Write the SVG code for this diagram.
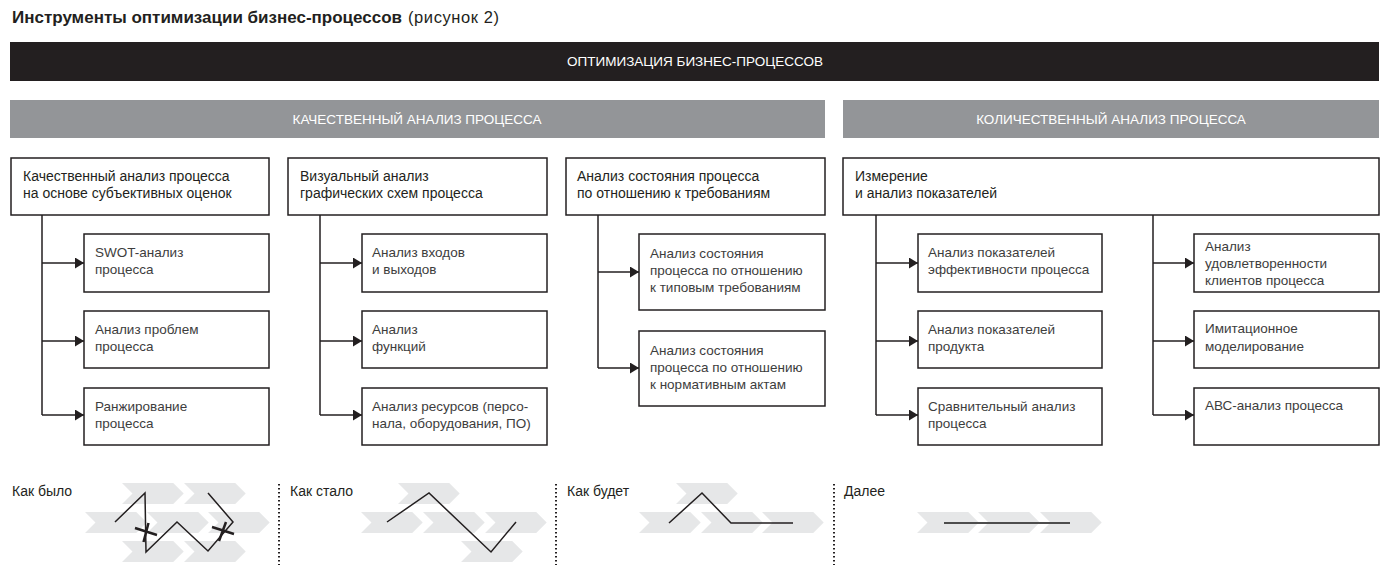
<svg xmlns="http://www.w3.org/2000/svg" width="1400" height="578" viewBox="0 0 1400 578">
<defs>
<style>
.box{fill:#fff;stroke:#231f20;stroke-width:1.5}
.t{font-family:"Liberation Sans",Arial,sans-serif;font-size:14px;fill:#231f20}
.c{font-family:"Liberation Sans",Arial,sans-serif;font-size:13.5px;fill:#3d3d3d}
.h{font-family:"Liberation Sans",Arial,sans-serif;font-size:13.5px;fill:#fff;text-anchor:middle}
.lb{font-family:"Liberation Sans",Arial,sans-serif;font-size:14px;fill:#231f20}
.conn{fill:none;stroke:#231f20;stroke-width:1.5}
.chev{fill:#e6e7e8}
.pl{fill:none;stroke:#231f20;stroke-width:1.5}
.xm{fill:none;stroke:#231f20;stroke-width:2.5}
.dot{stroke:#231f20;stroke-width:2;stroke-dasharray:1.6 2.4}
</style>
<marker id="arr" viewBox="0 0 9 11" markerWidth="9" markerHeight="11" refX="9" refY="5.5" orient="auto" markerUnits="userSpaceOnUse"><path d="M0,0 L9,5.5 L0,11 Z" fill="#231f20"/></marker>
<path id="chev" class="chev" d="M0 0H51.2L61.7 10.5L51.2 21H0L10.5 10.5Z"/>
</defs>

<g id="title">
<text x="12" y="23" font-family="'Liberation Sans',Arial,sans-serif" font-size="17" font-weight="bold" fill="#231f20" textLength="390">Инструменты оптимизации бизнес-процессов</text>
<text x="408" y="23" font-family="'Liberation Sans',Arial,sans-serif" font-size="16.5" fill="#231f20" textLength="91">(рисунок 2)</text>
</g>

<g id="bar-main">
<rect x="10" y="42" width="1369" height="39" fill="#231f20"/>
<text class="h" x="695" y="66">ОПТИМИЗАЦИЯ БИЗНЕС-ПРОЦЕССОВ</text>
</g>
<g id="bar-qual">
<rect x="10" y="100" width="815" height="38" fill="#939598"/>
<text class="h" x="417" y="124">КАЧЕСТВЕННЫЙ АНАЛИЗ ПРОЦЕССА</text>
</g>
<g id="bar-quant">
<rect x="843" y="100" width="536" height="38" fill="#939598"/>
<text class="h" x="1111" y="124">КОЛИЧЕСТВЕННЫЙ АНАЛИЗ ПРОЦЕССА</text>
</g>

<g id="connectors">
<path class="conn" d="M42 215V415M320 215V415M598 215V368M876 215V415M1153 215V415"/>
<g marker-end="url(#arr)">
<path class="conn" d="M42 263H84"/><path class="conn" d="M42 341H84"/><path class="conn" d="M42 415H84"/>
<path class="conn" d="M320 263H362"/><path class="conn" d="M320 341H362"/><path class="conn" d="M320 415H362"/>
<path class="conn" d="M598 272H639"/><path class="conn" d="M598 368H639"/>
<path class="conn" d="M876 263H918"/><path class="conn" d="M876 341H918"/><path class="conn" d="M876 415H918"/>
<path class="conn" d="M1153 263H1194"/><path class="conn" d="M1153 341H1194"/><path class="conn" d="M1153 415H1194"/>
</g>
</g>

<g id="n-col1">
<rect class="box" x="11" y="158" width="258" height="57"/>
<text class="t" x="23" y="181">Качественный анализ процесса<tspan x="23" dy="17">на основе субъективных оценок</tspan></text>
</g>
<g id="n-swot">
<rect class="box" x="84" y="234" width="185" height="58"/>
<text class="c" x="95" y="256.5">SWOT-анализ<tspan x="95" dy="17.5">процесса</tspan></text>
</g>
<g id="n-problems">
<rect class="box" x="84" y="311" width="185" height="57"/>
<text class="c" x="95" y="333.5">Анализ проблем<tspan x="95" dy="17.5">процесса</tspan></text>
</g>
<g id="n-ranking">
<rect class="box" x="84" y="388" width="185" height="57"/>
<text class="c" x="95" y="410.5">Ранжирование<tspan x="95" dy="17.5">процесса</tspan></text>
</g>

<g id="n-col2">
<rect class="box" x="288" y="158" width="259" height="57"/>
<text class="t" x="300" y="181">Визуальный анализ<tspan x="300" dy="17">графических схем процесса</tspan></text>
</g>
<g id="n-io">
<rect class="box" x="362" y="234" width="185" height="58"/>
<text class="c" x="372" y="256.5">Анализ входов<tspan x="372" dy="17.5">и выходов</tspan></text>
</g>
<g id="n-func">
<rect class="box" x="362" y="311" width="185" height="57"/>
<text class="c" x="372" y="333.5">Анализ<tspan x="372" dy="17.5">функций</tspan></text>
</g>
<g id="n-res">
<rect class="box" x="362" y="388" width="185" height="57"/>
<text class="c" x="372" y="410.5">Анализ ресурсов (персо-<tspan x="372" dy="17.5">нала, оборудования, ПО)</tspan></text>
</g>

<g id="n-col3">
<rect class="box" x="566" y="158" width="259" height="57"/>
<text class="t" x="577" y="181">Анализ состояния процесса<tspan x="577" dy="17">по отношению к требованиям</tspan></text>
</g>
<g id="n-typical">
<rect class="box" x="639" y="234" width="186" height="76"/>
<text class="c" x="650" y="258">Анализ состояния<tspan x="650" dy="17">процесса по отношению</tspan><tspan x="650" dy="17">к типовым требованиям</tspan></text>
</g>
<g id="n-normative">
<rect class="box" x="639" y="331" width="186" height="75"/>
<text class="c" x="650" y="355">Анализ состояния<tspan x="650" dy="17">процесса по отношению</tspan><tspan x="650" dy="17">к нормативным актам</tspan></text>
</g>

<g id="n-col4">
<rect class="box" x="843" y="158" width="536" height="57"/>
<text class="t" x="855" y="181">Измерение<tspan x="855" dy="17">и анализ показателей</tspan></text>
</g>
<g id="n-eff">
<rect class="box" x="918" y="234" width="184" height="58"/>
<text class="c" x="928" y="256.5">Анализ показателей<tspan x="928" dy="17.5">эффективности процесса</tspan></text>
</g>
<g id="n-product">
<rect class="box" x="918" y="311" width="184" height="57"/>
<text class="c" x="928" y="333.5">Анализ показателей<tspan x="928" dy="17.5">продукта</tspan></text>
</g>
<g id="n-compare">
<rect class="box" x="918" y="388" width="184" height="57"/>
<text class="c" x="928" y="410.5">Сравнительный анализ<tspan x="928" dy="17.5">процесса</tspan></text>
</g>
<g id="n-satisf">
<rect class="box" x="1194" y="234" width="185" height="58"/>
<text class="c" x="1205" y="251">Анализ<tspan x="1205" dy="17">удовлетворенности</tspan><tspan x="1205" dy="17">клиентов процесса</tspan></text>
</g>
<g id="n-sim">
<rect class="box" x="1194" y="311" width="185" height="57"/>
<text class="c" x="1205" y="333">Имитационное<tspan x="1205" dy="17.5">моделирование</tspan></text>
</g>
<g id="n-abc">
<rect class="box" x="1194" y="388" width="185" height="57"/>
<text class="c" x="1205" y="410">АВС-анализ процесса</text>
</g>

<g id="legend">
<line class="dot" x1="279" y1="484" x2="279" y2="565"/>
<line class="dot" x1="556" y1="484" x2="556" y2="565"/>
<line class="dot" x1="834" y1="484" x2="834" y2="565"/>

<g id="was">
<text class="lb" x="12" y="496">Как было</text>
<use href="#chev" x="122" y="483"/><use href="#chev" x="184" y="483"/>
<use href="#chev" x="85" y="512"/><use href="#chev" x="147" y="512"/><use href="#chev" x="208" y="512"/>
<use href="#chev" x="122" y="541"/><use href="#chev" x="184" y="541"/>
<polyline class="pl" points="115,522 145,493 146,552 177,522 208,551 233,522 208,493"/>
<path class="xm" d="M135 528L157 535M148.5 523L143.5 542"/>
<path class="xm" d="M212 527L234 534M226 522L219 541"/>
</g>

<g id="became">
<text class="lb" x="290" y="496">Как стало</text>
<use href="#chev" x="398" y="483"/>
<use href="#chev" x="361" y="512"/><use href="#chev" x="423" y="512"/><use href="#chev" x="485" y="512"/>
<use href="#chev" x="461" y="541"/>
<polyline class="pl" points="387,522 429,493 491,552 516,522"/>
</g>

<g id="will">
<text class="lb" x="567" y="496">Как будет</text>
<use href="#chev" x="676" y="483"/>
<use href="#chev" x="639" y="512"/><use href="#chev" x="701" y="512"/><use href="#chev" x="762" y="512"/>
<polyline class="pl" points="669,523 702,493 731,523 793,523"/>
</g>

<g id="next">
<text class="lb" x="844" y="496">Далее</text>
<use href="#chev" x="917" y="512"/><use href="#chev" x="978" y="512"/><use href="#chev" x="1040" y="512"/>
<line x1="944" y1="523" x2="1070" y2="523" stroke="#4d4d4d" stroke-width="2"/>
</g>
</g>
</svg>
